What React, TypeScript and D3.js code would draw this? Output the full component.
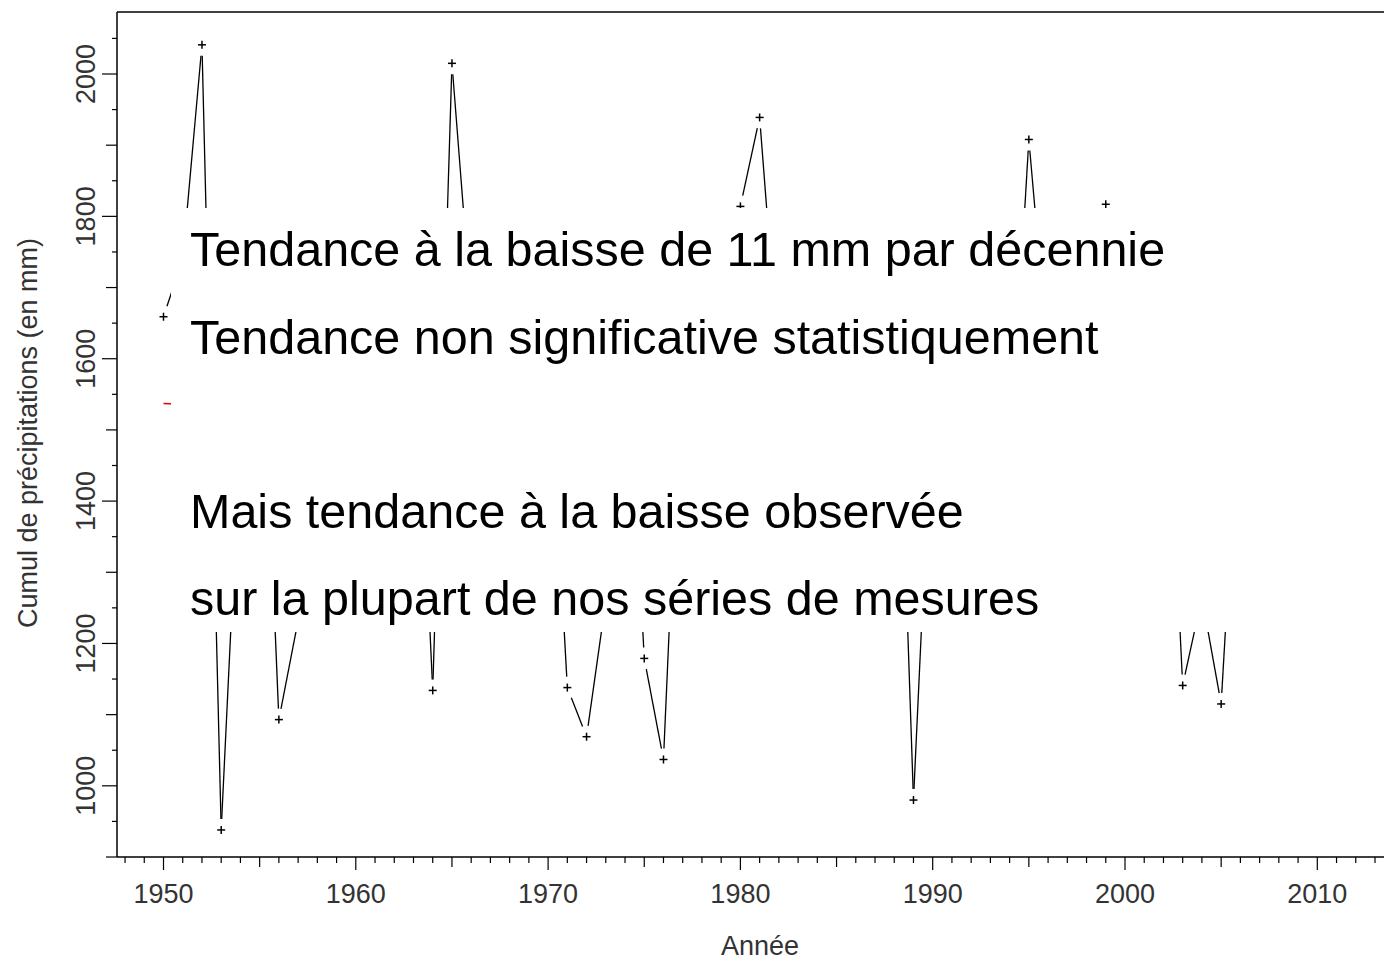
import React from 'react';
import * as d3 from 'd3';

// annual rainfall totals (mm); the middle band is hidden by the note box
const years = [
    1950, 1951, 1952, 1953, 1954, 1955, 1956, 1957, 1958, 1959,
    1960, 1961, 1962, 1963, 1964, 1965, 1966, 1967, 1968, 1969,
    1970, 1971, 1972, 1973, 1974, 1975, 1976, 1977, 1978, 1979,
    1980, 1981, 1982, 1983, 1984, 1985, 1986, 1987, 1988, 1989,
    1990, 1991, 1992, 1993, 1994, 1995, 1996, 1997, 1998, 1999,
    2000, 2001, 2002, 2003, 2004, 2005, 2006, 2007, 2008,
];
const precip = [
    1659, 1740, 2041, 938, 1500, 1740, 1093, 1232, 1520, 1390,
    1610, 1470, 1330, 1720, 1134, 2015, 1670, 1420, 1560, 1380,
    1630, 1138, 1069, 1260, 1700, 1179, 1037, 1650, 1480, 1350,
    1814, 1939, 1590, 1410, 1530, 1300, 1460, 1620, 1780, 980,
    1560, 1420, 1610, 1340, 1450, 1908, 1600, 1380, 1510, 1817,
    1640, 1470, 1700, 1141, 1265, 1115, 1580, 1430, 1520,
];

// linear trend (red), mostly under the box
const trendYears = [1950, 2008];
const trendValues = [1537, 1473];

const xTickLabels = [1950, 1960, 1970, 1980, 1990, 2000, 2010];
const yTickLabels = [1000, 1200, 1400, 1600, 1800, 2000];

const notes = [
    'Tendance à la baisse de 11 mm par décennie',
    'Tendance non significative statistiquement',
    'Mais tendance à la baisse observée',
    'sur la plupart de nos séries de mesures',
];

const W = 1384;
const H = 962;
const left = 117;
const top = 12;
const bottom = 857;
const font = '"Liberation Sans", Arial, sans-serif';

export default function App() {
    const x = d3.scaleLinear().domain([1950, 2010]).range([163.5, 1317.3]);
    const y = d3.scaleLinear().domain([900, 2000]).range([bottom, 74]);

    const pts = years.map((yr, i) => [x(yr), y(precip[i])]);
    const gap = 11;
    const segments = [];
    for (let i = 0; i < pts.length - 1; i++) {
        const [x0, y0] = pts[i];
        const [x1, y1] = pts[i + 1];
        const len = Math.hypot(x1 - x0, y1 - y0);
        if (len <= 2 * gap) continue;
        const ux = (x1 - x0) / len;
        const uy = (y1 - y0) / len;
        segments.push([x0 + ux * gap, y0 + uy * gap, x1 - ux * gap, y1 - uy * gap]);
    }

    const xMinor = d3.range(1948, 2014);
    const yMinor = d3.range(900, 2051, 50);

    const line = d3.line();
    const trend = line(trendYears.map((yr, i) => [x(yr), y(trendValues[i])]));

    return (
        <svg width={W} height={H} style={{position: 'absolute', left: 0, top: 0, background: '#fff'}}>
            <path d={trend} stroke='#e00000' strokeWidth={1.5} fill='none' />
            {segments.map((s, i) => (
                <line key={'s' + i} x1={s[0]} y1={s[1]} x2={s[2]} y2={s[3]} stroke='#000' strokeWidth={1.3} />
            ))}
            {pts.map((p, i) => (
                <g key={'m' + i} stroke='#000' strokeWidth={1.5}>
                    <line x1={p[0] - 4} x2={p[0] + 4} y1={p[1]} y2={p[1]} />
                    <line x1={p[0]} x2={p[0]} y1={p[1] - 4} y2={p[1] + 4} />
                </g>
            ))}

            {/* note box */}
            <rect x={171} y={208} width={W - 171} height={424} fill='#fff' />
            {notes.map((t, i) => (
                <text key={'n' + i} x={190} y={[266, 354, 528, 615][i]} fontFamily={font} fontSize={48.5} fill='#000'>
                    {t}
                </text>
            ))}

            {/* frame */}
            <line x1={left} x2={W} y1={top} y2={top} stroke='#000' strokeWidth={1.5} />
            <line x1={left} x2={left} y1={top} y2={bottom} stroke='#000' strokeWidth={1.5} />
            <line x1={left} x2={W} y1={bottom} y2={bottom} stroke='#000' strokeWidth={1.5} />

            {/* y axis */}
            {yMinor.map((v) => {
                const len = v % 200 === 0 ? 15 : v % 100 === 0 ? 11 : 5;
                return <line key={'yt' + v} x1={left - len} x2={left} y1={y(v)} y2={y(v)} stroke='#000' strokeWidth={1.2} />;
            })}
            {yTickLabels.map((v) => (
                <text key={'yl' + v} transform={`translate(95,${y(v)}) rotate(-90)`} textAnchor='middle'
                    fontFamily={font} fontSize={27} fill='#333'>{v}</text>
            ))}
            <text transform='translate(37,433) rotate(-90)' textAnchor='middle' fontFamily={font} fontSize={27} fill='#333'>
                Cumul de précipitations (en mm)
            </text>

            {/* x axis */}
            {xMinor.map((yr) => {
                const len = yr % 10 === 0 ? 13 : yr % 5 === 0 ? 10 : 6;
                return <line key={'xt' + yr} x1={x(yr)} x2={x(yr)} y1={bottom} y2={bottom + len} stroke='#000' strokeWidth={1.2} />;
            })}
            {xTickLabels.map((yr) => (
                <text key={'xl' + yr} x={x(yr)} y={903} textAnchor='middle' fontFamily={font} fontSize={27} fill='#333'>{yr}</text>
            ))}
            <text x={760} y={955} textAnchor='middle' fontFamily={font} fontSize={27} fill='#333'>Année</text>
        </svg>
    );
}
